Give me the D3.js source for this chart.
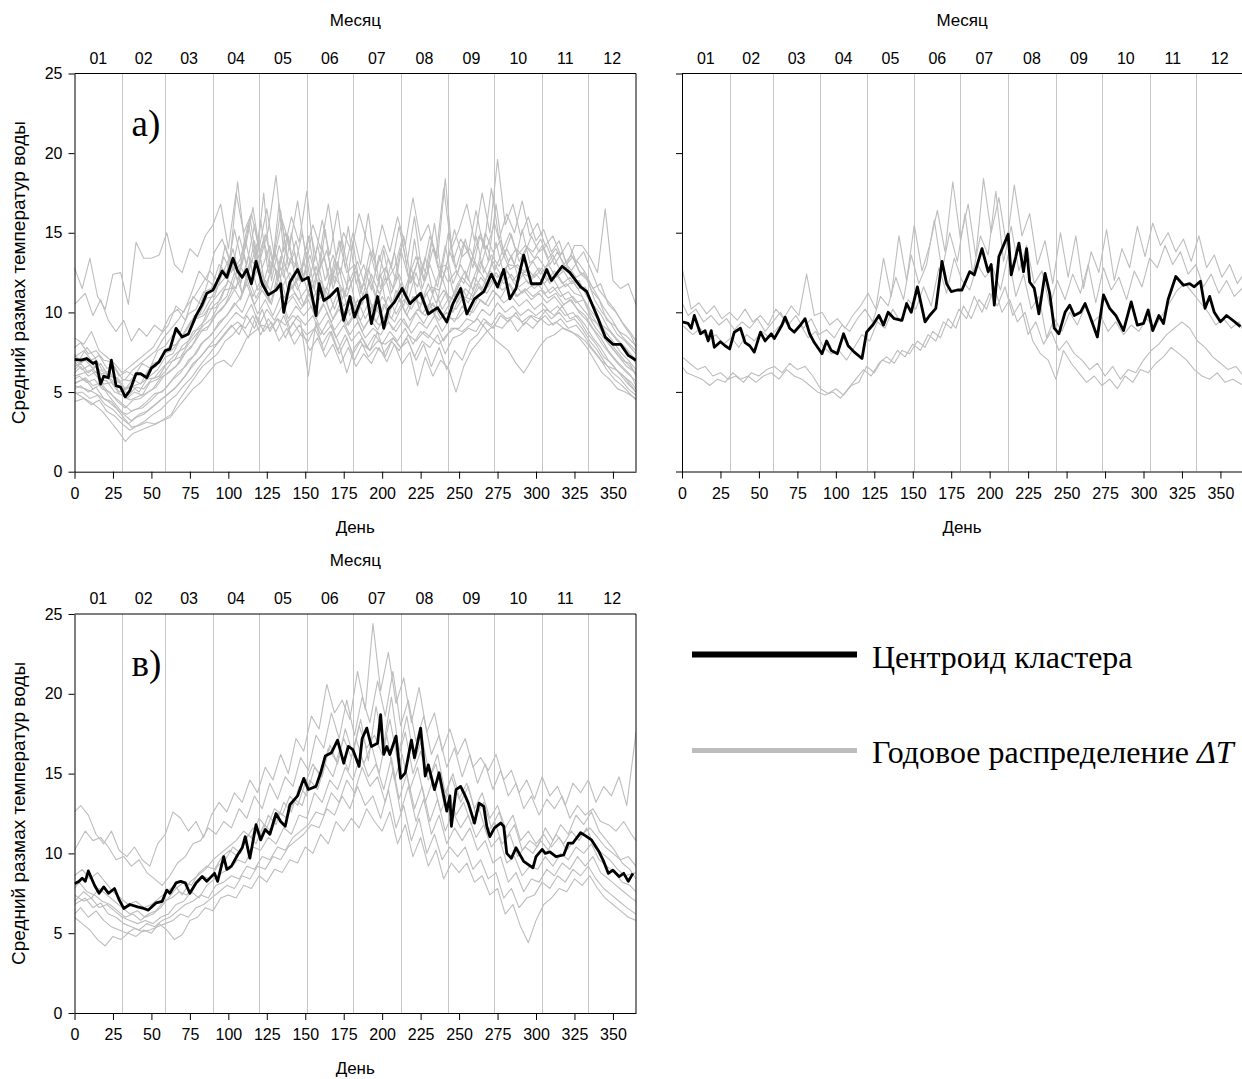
<!DOCTYPE html>
<html><head><meta charset="utf-8">
<script src="https://cdn.jsdelivr.net/npm/d3@7"></script>
<style>body{margin:0;background:#fff}svg{display:block}</style>
</head><body>
<svg id="c" width="1242" height="1079"></svg>
<script>
// ---------- DATA ----------
const monthLabels = ["01","02","03","04","05","06","07","08","09","10","11","12"];
const monthStarts = [0,31,59,90,120,151,181,212,243,273,304,334,365];
const dayTicks = [0,25,50,75,100,125,150,175,200,225,250,275,300,325,350];
const valueTicks = [0,5,10,15,20,25];

const centroidA = [[0,7.05],[4,7.0],[8,7.1],[12,6.8],[14,6.9],[17,5.5],[19,6.0],[22,5.9],[24,7.0],[27,5.4],[30,5.3],[33,4.7],[36,5.1],[40,6.15],[43,6.15],[47,5.9],[50,6.5],[55,6.9],[59,7.6],[62,7.7],[66,9.0],[70,8.45],[74,8.65],[79,9.8],[83,10.5],[86,11.2],[90,11.4],[93,12.0],[96,12.6],[99,12.2],[103,13.4],[106,12.6],[109,12.2],[112,12.7],[115,11.8],[118,13.2],[122,11.8],[126,11.1],[131,11.4],[134,11.8],[136,10.0],[140,11.9],[145,12.7],[148,12.0],[152,12.2],[157,9.8],[159,11.8],[162,10.75],[166,11.0],[171,11.5],[175,9.5],[179,11.0],[182,9.7],[186,10.75],[190,11.1],[193,9.3],[197,11.0],[201,9.0],[204,10.2],[208,10.65],[213,11.5],[218,10.55],[225,11.2],[230,9.9],[236,10.3],[242,9.4],[246,10.55],[251,11.5],[255,9.9],[260,10.85],[266,11.3],[271,12.4],[275,11.6],[279,12.7],[283,10.85],[287,11.5],[292,13.6],[297,11.8],[303,11.8],[307,12.7],[310,12.0],[317,12.9],[322,12.5],[329,11.6],[333,11.3],[340,9.7],[345,8.45],[350,8.0],[355,8.0],[360,7.3],[365,7.0]];

const centroidB = [[0,9.4],[4,9.3],[6,9.0],[8,9.8],[12,8.65],[15,8.85],[17,8.2],[19,8.85],[21,7.8],[25,8.15],[28,7.9],[31,7.7],[34,8.75],[38,9.0],[41,8.1],[44,7.9],[47,7.5],[51,8.75],[54,8.2],[58,8.65],[60,8.35],[65,9.2],[67,9.7],[70,9.0],[73,8.75],[77,9.2],[80,9.6],[83,8.65],[86,8.1],[91,7.4],[94,8.2],[97,7.6],[101,7.4],[105,8.65],[108,7.9],[112,7.5],[117,7.1],[120,8.75],[124,9.2],[128,9.8],[131,9.2],[134,10.0],[138,9.6],[143,9.5],[146,10.55],[149,10.0],[153,11.6],[158,9.4],[161,9.8],[165,10.25],[169,13.2],[172,11.8],[175,11.3],[179,11.4],[182,11.4],[187,12.55],[190,12.35],[195,14.0],[199,12.55],[201,13.0],[203,10.45],[206,13.5],[212,14.9],[214,12.35],[217,13.5],[219,14.35],[222,12.55],[224,14.0],[226,11.9],[229,11.5],[232,9.9],[236,12.45],[239,11.2],[242,9.0],[245,8.65],[249,10.0],[252,10.45],[255,9.8],[259,10.0],[262,10.55],[265,9.8],[270,8.45],[274,11.1],[278,10.25],[282,9.8],[287,8.85],[292,10.65],[296,9.2],[300,9.3],[303,10.15],[306,8.85],[310,9.8],[313,9.3],[316,10.8],[321,12.25],[326,11.7],[330,11.8],[333,11.6],[337,11.95],[340,10.25],[343,11.0],[346,10.0],[350,9.4],[354,9.8],[358,9.5],[363,9.1]];

const centroidV = [[0,8.1],[3,8.25],[5,8.45],[7,8.25],[9,8.9],[13,8.0],[16,7.5],[19,7.9],[22,7.5],[26,7.8],[29,7.1],[32,6.55],[36,6.8],[41,6.65],[45,6.55],[48,6.45],[53,6.9],[57,7.0],[60,7.7],[62,7.5],[66,8.15],[69,8.25],[72,8.15],[75,7.5],[79,8.15],[83,8.55],[86,8.25],[91,8.75],[93,8.25],[97,9.8],[99,9.0],[102,9.2],[106,9.9],[109,10.35],[111,11.05],[114,9.7],[118,11.8],[121,10.85],[124,11.5],[127,11.2],[131,12.5],[134,12.0],[137,11.7],[140,13.05],[145,13.6],[149,14.7],[152,14.0],[157,14.2],[160,15.05],[163,16.1],[167,16.3],[171,17.1],[175,15.65],[178,16.7],[181,16.5],[185,15.45],[187,17.2],[190,17.85],[193,16.7],[197,16.9],[199,18.7],[201,16.2],[203,16.7],[205,16.2],[209,17.35],[212,14.7],[215,15.05],[219,17.1],[221,16.0],[225,17.85],[228,14.85],[230,15.55],[234,14.0],[237,15.05],[240,13.6],[242,12.65],[244,13.6],[245,11.7],[248,14.0],[251,14.2],[254,13.6],[256,13.15],[260,11.9],[263,13.15],[266,12.95],[268,11.7],[270,11.05],[273,11.6],[277,11.9],[279,11.7],[281,10.0],[284,9.7],[287,10.35],[292,9.5],[295,9.3],[298,9.1],[300,9.8],[304,10.25],[306,10.0],[309,10.1],[313,9.8],[318,9.9],[321,10.65],[324,10.65],[329,11.3],[333,11.05],[336,10.85],[341,10.1],[344,9.5],[347,8.75],[350,8.95],[354,8.55],[357,8.75],[360,8.25],[363,8.75]];

// gray lines: first value at day 0, then one value about every 5 days (shifted per line), last at day 365
const grayShiftA = [0,2,-1,1,-2,2,0,-1,1,-2,2,-1,0,1,-2,2,1,-2,2,-1];
const grayShiftB = [1,-1,2,0,-2];
const grayShiftV = [-1,2,0,-2,1,2,-1,0,1];

const grayA = [
[12.8,11.5,13.4,11.0,10.2,12.4,12.5,10.5,14.4,13.4, 13.4,13.6,15.0,13.0,12.5,14.0,13.5,14.8,15.5,16.8, 14.0,17.5,15.0,16.2,14.0,16.5,13.5,15.8,14.2,17.0, 13.8,15.5,14.0,16.8,13.5,15.0,13.8,16.2,14.5,13.2, 15.5,13.8,16.0,14.2,17.2,14.5,15.5,13.5,17.8,14.0, 15.2,16.8,14.5,17.5,15.0,19.6,15.5,16.8,14.8,16.0, 14.5,15.2,13.8,14.5,13.0,14.2,14.2,13.5,12.5,16.5, 12.0,11.5,11.8,10.5],
[10.5,11.2,9.8,10.8,9.5,8.8,9.5,8.2,9.0,8.5, 9.2,8.8,9.8,10.2,9.5,11.0,10.5,12.0,11.5,13.5, 12.5,14.8,13.0,15.5,12.8,14.2,12.0,15.0,13.2,12.5, 14.8,12.2,13.5,11.8,14.5,12.5,13.0,11.5,13.8,12.0, 12.8,11.5,14.0,12.2,13.5,12.0,14.5,12.8,13.0,15.2, 13.5,14.0,12.8,15.0,13.8,14.5,13.2,14.0,13.5,14.8, 13.8,14.2,13.0,13.8,12.5,13.2,12.5,11.5,11.8,10.5, 10.0,9.2,8.5,7.8],
[7.8,8.1,7.4,7.6,7.0,6.9,6.0,6.3,6.0,6.8, 6.5,7.6,7.9,8.6,8.8,9.9,10.2,11.3,11.5,13.0, 12.4,15.2,13.0,16.0,12.8,14.9,13.1,16.4,12.9,14.5, 12.2,14.8,12.6,13.9,11.8,14.6,12.0,13.2,11.6,14.0, 11.5,13.4,12.0,14.8,11.9,13.5,12.3,15.6,12.0,13.8, 12.4,14.6,12.8,15.0,13.2,16.8,13.5,14.9,13.2,14.1, 13.4,14.2,13.0,13.8,12.9,13.5,12.4,12.0,11.2,10.3, 9.6,8.8,8.5,7.9],
[7.2,7.6,7.0,7.3,6.5,6.6,5.8,5.7,6.2,6.0, 6.8,7.0,7.8,8.0,8.7,9.5,9.8,10.9,11.0,12.4, 13.5,12.0,14.6,12.3,15.8,12.5,13.6,12.2,15.0,12.0, 13.8,11.5,14.2,11.6,13.2,11.0,14.5,11.2,12.8,11.0, 13.9,11.2,12.4,11.0,14.6,11.5,13.0,11.6,14.2,11.8, 13.0,12.0,14.8,12.5,13.6,12.9,14.0,13.0,15.2,13.1, 13.5,12.8,13.6,12.6,12.9,12.2,12.5,11.4,10.8,9.5, 9.2,8.5,8.0,7.6],
[7.0,6.8,7.2,6.6,6.3,6.0,5.9,5.2,5.8,5.5, 6.4,6.6,7.4,7.6,8.2,8.9,9.8,9.9,10.8,11.6, 12.2,14.0,11.8,13.5,12.9,17.5,12.0,14.2,12.6,13.8, 11.9,13.6,11.8,15.2,11.5,12.8,11.4,12.6,10.8,12.4, 11.2,12.0,13.8,10.9,12.4,11.6,13.5,11.2,12.8,11.9, 12.6,11.8,13.4,12.5,14.2,12.6,13.8,12.7,13.0,12.5, 13.2,12.4,13.0,12.2,12.6,11.8,12.0,11.0,10.3,9.2, 8.8,8.2,7.8,7.0],
[6.6,7.0,6.5,6.8,6.0,5.9,5.2,5.4,5.0,5.8, 5.9,6.5,7.0,7.5,7.8,8.8,9.0,10.2,10.3,11.4, 11.5,13.0,12.2,14.5,11.6,13.2,12.5,13.0,11.5,12.8, 11.2,12.9,11.0,12.5,11.8,11.0,12.4,10.5,12.0,10.6, 12.2,10.5,11.8,10.8,12.5,10.9,11.6,11.4,12.9,11.0, 12.2,11.6,12.8,12.0,13.2,12.4,13.0,12.9,12.4,12.2, 12.8,12.0,12.6,11.8,12.2,11.5,11.6,10.5,9.9,9.0, 8.4,7.9,7.2,6.8],
[6.9,6.4,6.7,6.1,6.2,5.5,5.4,4.8,5.3,5.2, 5.8,6.0,6.8,7.0,7.9,8.3,9.0,9.5,10.4,10.8, 12.0,11.5,13.6,11.8,12.9,11.5,14.0,11.6,12.5,11.4, 12.6,10.8,12.0,11.0,11.5,10.4,11.0,10.2,11.4,9.8, 11.0,10.2,11.2,10.0,11.0,10.5,11.8,10.6,11.4,10.8, 11.8,11.0,12.2,11.5,12.6,12.2,12.8,12.0,12.6,11.8, 12.4,11.8,12.3,11.5,11.8,11.2,11.0,10.2,9.6,8.8, 8.2,7.5,7.0,6.4],
[6.2,6.6,6.0,6.3,5.5,5.6,4.9,4.6,5.0,4.8, 5.6,5.8,6.3,7.0,7.2,8.0,8.6,9.2,9.6,10.5, 11.0,12.5,11.2,13.2,11.4,12.0,11.0,13.5,11.2,12.0, 10.5,11.8,10.8,11.6,10.2,11.5,9.8,10.8,9.6,10.5, 9.8,11.0,9.9,10.8,10.2,11.2,10.0,11.5,10.2,11.0, 10.6,11.5,11.0,12.2,11.6,12.5,11.8,12.4,11.6,12.0, 11.5,12.0,11.2,11.6,10.8,11.0,10.4,9.8,9.0,8.4, 7.8,7.2,6.6,6.2],
[6.0,6.2,6.4,5.8,5.7,5.0,4.8,4.5,4.7,4.9, 5.2,5.9,6.2,6.6,7.4,7.8,8.8,8.9,9.8,10.2, 10.9,11.8,12.4,11.0,12.0,10.8,12.6,10.9,11.6,10.8, 11.5,10.2,11.6,10.0,11.2,9.8,10.4,9.5,10.6,9.4, 10.5,9.6,10.8,9.8,11.0,9.9,10.6,10.2,11.2,10.0, 11.2,10.6,11.8,11.2,12.0,11.5,12.6,11.8,11.2,11.6, 11.8,11.2,11.6,11.0,11.3,10.6,10.8,9.6,9.2,8.2, 7.6,7.0,6.8,6.0],
[5.8,6.0,5.6,5.8,5.2,5.0,4.4,4.0,4.5,4.6, 5.0,5.3,6.0,6.4,6.8,7.6,8.1,8.9,9.2,10.0, 10.5,11.6,10.8,12.2,10.9,11.8,10.5,12.4,10.8,11.2, 10.4,11.2,9.9,10.8,9.6,10.6,9.2,10.0,9.0,9.8, 9.2,10.0,9.4,10.4,9.5,10.2,9.8,10.6,9.6,10.4, 10.2,11.0,10.8,11.6,11.2,12.0,11.4,11.8,11.0,11.5, 11.0,11.4,10.9,11.2,10.5,10.8,10.0,9.5,8.8,8.0, 7.4,6.8,6.3,5.7],
[5.5,5.9,5.4,5.6,5.0,4.6,4.2,3.8,4.0,4.4, 4.9,5.0,5.6,6.2,6.6,7.2,8.0,8.4,9.0,9.6, 10.2,10.8,11.8,10.5,11.4,10.6,11.8,10.4,11.0,10.2, 10.8,9.6,10.5,9.4,10.2,9.2,10.0,8.8,9.6,8.9, 9.8,8.9,9.6,9.0,10.0,9.3,10.2,9.5,10.0,9.4, 10.4,9.8,10.9,10.5,11.4,10.9,11.8,11.0,11.4,10.8, 11.2,10.6,11.0,10.4,10.8,10.2,9.8,9.0,8.4,7.6, 7.0,6.5,6.0,5.4],
[5.2,5.4,5.0,5.3,4.6,4.4,3.8,3.6,3.9,4.0, 4.4,4.9,5.2,5.8,6.2,7.0,7.4,8.2,8.6,9.4, 9.8,10.6,10.0,11.2,9.9,10.8,9.8,11.0,9.6,10.4, 9.8,10.4,9.2,10.0,8.9,9.6,8.6,9.4,8.4,9.0, 8.6,9.4,8.8,9.6,8.7,9.4,9.0,9.8,8.8,9.6, 9.6,10.2,10.0,10.8,10.4,11.2,10.6,11.0,10.4,10.8, 10.2,10.6,10.0,10.4,9.8,10.0,9.4,8.6,8.0,7.2, 6.8,6.2,5.6,5.0],
[4.9,5.0,4.6,4.8,4.2,3.9,3.4,3.0,3.4,3.6, 4.0,4.4,4.8,5.2,5.8,6.4,7.0,7.6,8.2,8.8, 9.4,10.0,9.6,10.5,9.2,10.2,9.5,10.4,9.0,9.8, 9.2,9.8,8.6,9.5,8.4,9.2,8.2,8.8,7.8,8.6, 8.0,8.8,8.2,9.0,8.0,8.8,8.4,9.2,8.2,9.0, 9.0,9.6,9.4,10.2,9.8,10.6,10.0,10.4,9.8,10.2, 9.8,10.2,9.6,10.0,9.4,9.6,9.0,8.2,7.6,6.8, 6.2,5.8,5.2,4.8],
[4.4,4.6,4.2,4.5,3.8,3.5,3.0,2.6,2.9,3.2, 3.6,3.9,4.4,4.8,5.4,5.9,6.6,7.2,7.8,8.4, 9.0,9.4,9.0,9.8,8.6,9.6,8.8,9.8,8.5,9.2, 8.6,9.0,8.0,8.8,7.6,8.6,7.4,8.2,7.2,7.8, 7.4,8.2,7.6,8.4,7.2,8.2,7.8,8.6,7.4,8.4, 8.6,9.0,8.8,9.6,9.2,10.0,9.6,9.8,9.4,9.8, 9.4,9.8,9.2,9.6,9.0,9.2,8.6,7.8,7.2,6.4, 5.8,5.4,4.9,4.5],
[5.0,4.8,4.5,4.2,3.8,3.2,2.6,1.9,2.4,2.6, 2.8,3.0,3.3,3.6,4.5,5.2,5.9,6.6,7.0,7.4, 8.2,8.6,9.2,8.4,9.8,8.8,9.4,8.2,9.0,8.0, 8.8,7.6,8.4,7.2,8.0,6.8,7.8,6.6,7.4,6.8, 7.8,6.9,8.0,6.8,7.5,5.4,7.2,6.0,7.0,6.5, 5.0,6.6,7.6,8.2,8.8,9.2,9.0,9.6,8.8,9.4, 9.0,9.6,9.2,9.4,9.0,8.8,8.4,7.8,7.0,6.2, 5.8,5.2,5.0,4.6],
[5.4,5.2,5.0,4.7,4.4,4.0,3.4,2.8,2.9,3.1, 3.0,3.2,3.4,4.0,4.6,5.2,5.6,6.2,6.8,7.0, 6.6,7.4,8.4,8.8,9.2,9.0,9.6,9.2,9.8,9.4, 6.0,9.4,8.6,9.2,8.0,6.2,7.8,8.4,7.6,8.2, 8.0,8.4,7.8,8.6,8.2,8.8,8.4,8.0,8.6,9.0, 8.8,9.2,9.6,9.0,8.4,8.0,7.6,6.8,6.2,7.0, 7.8,8.4,8.6,9.0,8.8,8.6,8.2,7.6,7.0,6.6, 6.4,6.0,5.6,5.2],
[8.4,8.0,8.8,7.6,7.2,6.8,6.2,6.6,7.0,7.4, 7.8,8.6,9.2,10.4,10.0,11.2,12.6,12.0,13.8,14.6, 13.2,18.2,14.0,16.6,13.4,15.2,18.6,13.8,16.0,14.4, 17.6,13.2,15.8,13.6,16.4,12.8,15.0,13.0,16.2,12.6, 14.2,12.8,15.4,13.0,16.0,12.4,14.8,13.4,18.4,13.2, 14.6,13.8,16.4,14.0,17.8,14.6,16.2,15.0,17.0,14.8, 15.6,14.2,14.8,13.6,14.4,13.2,13.8,12.6,11.4,10.8, 10.2,9.4,8.8,8.2],
[7.4,7.0,7.8,7.2,6.4,6.2,5.6,5.8,6.4,6.8, 7.2,7.6,8.4,9.0,9.6,10.4,11.0,11.8,12.6,12.0, 14.2,12.6,13.4,15.6,13.0,14.6,12.4,16.8,13.6,12.8, 15.0,12.2,14.2,12.0,13.6,12.4,15.4,11.8,13.0,11.4, 13.6,12.0,12.8,14.6,11.8,13.2,12.0,14.0,12.2,15.0, 12.8,14.4,13.2,14.8,14.0,15.6,13.8,15.0,13.6,14.2, 13.8,14.6,13.4,14.0,13.0,13.6,12.6,12.2,10.8,10.0, 9.4,8.6,8.2,7.4],
[5.6,5.8,5.2,5.5,4.8,4.2,3.6,3.2,3.6,3.8, 4.2,4.6,5.0,5.4,6.0,6.8,7.2,7.8,8.0,8.6, 9.2,8.6,9.8,9.0,10.2,8.8,9.6,8.4,9.4,8.6, 8.2,9.2,7.6,8.8,7.4,8.4,7.0,8.0,7.6,8.8, 7.2,8.4,7.8,8.2,7.0,8.0,6.6,7.8,6.4,7.6, 7.0,8.2,8.6,9.4,9.0,9.8,9.4,10.0,9.2,9.8, 9.6,10.2,9.8,10.4,9.6,9.8,9.2,8.4,7.8,7.0, 6.4,6.0,5.4,5.0],
[6.4,6.8,6.2,6.6,5.9,5.8,5.0,5.2,5.4,5.6, 6.0,6.4,7.2,7.4,8.4,8.6,9.6,9.8,10.6,11.2, 11.8,13.6,11.2,12.8,14.4,11.6,13.0,12.2,14.8,11.8, 13.2,11.4,12.8,10.6,13.4,10.8,12.2,9.8,11.6,10.2, 12.4,9.6,11.4,10.4,12.8,10.2,11.2,9.8,12.2,10.6, 11.8,12.6,11.4,13.2,12.2,14.4,12.4,13.6,12.0,12.8, 12.2,12.8,11.8,12.4,11.6,12.0,11.2,10.2,9.4,8.6, 8.0,7.4,6.8,6.2]
];

const grayB = [
[12.8,10.2,10.6,9.9,10.4,9.6,10.0,9.5,10.2,9.4, 9.8,9.2,10.2,9.6,10.4,9.8,12.4,9.8,10.0,9.2, 9.6,9.0,9.8,10.4,11.2,10.2,13.4,11.0,14.8,12.0, 15.5,12.6,14.2,16.4,13.8,18.2,14.6,16.8,13.5,18.4, 15.0,17.2,14.2,18.0,14.8,16.2,13.0,14.5,11.8,15.0, 12.2,14.8,11.5,13.8,12.5,15.2,12.0,14.0,12.8,15.4, 13.5,15.6,14.2,15.0,13.8,14.6,13.2,14.8,12.8,13.6, 12.2,13.0,11.8,12.4],
[10.6,9.8,10.2,9.4,9.8,9.2,9.6,8.9,9.4,9.0, 9.6,8.8,9.4,10.0,9.2,9.8,9.0,9.6,8.6,8.9, 8.4,9.2,8.8,9.6,10.2,9.4,11.0,10.4,12.2,10.8, 13.6,11.8,13.0,15.8,12.6,15.0,13.2,16.2,12.4,14.8, 13.6,17.6,13.2,15.4,12.6,14.2,11.8,12.6,10.4,12.0, 10.8,12.4,11.2,13.0,10.6,12.8,11.4,12.2,10.8,12.6, 11.6,13.4,12.8,14.2,13.0,13.8,12.4,13.0,11.6,12.4, 11.2,12.0,11.0,11.6],
[9.2,8.6,9.0,8.2,8.6,8.0,8.4,7.8,8.6,8.2, 8.8,8.4,9.0,9.4,8.8,9.2,8.4,8.8,7.8,7.4, 7.6,7.0,7.8,8.6,8.2,9.4,9.0,10.2,9.4,10.8, 10.2,11.6,10.4,12.8,11.2,13.4,12.0,11.4,13.0,12.2, 12.8,11.4,13.6,11.0,12.4,10.2,11.0,8.4,9.6,8.8, 10.0,9.2,10.4,9.4,9.8,8.8,9.4,8.6,9.2,8.8, 9.6,9.0,9.8,10.6,11.4,11.8,11.2,10.6,10.0,9.2, 9.6,9.0,9.4,8.8],
[7.2,6.8,6.4,6.6,6.0,6.2,5.8,6.0,5.6,6.2, 6.0,6.4,6.6,6.2,6.8,6.4,6.6,6.0,5.2,4.9, 5.2,4.8,5.4,5.6,6.6,6.2,7.0,6.8,7.6,7.2, 8.0,7.6,8.6,8.2,9.4,9.0,10.2,9.6,11.0,10.0, 11.2,10.4,11.6,9.8,10.6,8.6,9.4,8.0,8.8,7.6, 8.2,7.4,7.0,6.4,6.8,6.0,6.6,5.8,6.4,6.2, 7.0,7.6,8.0,8.6,9.0,9.4,9.0,8.2,7.8,7.2, 6.8,6.4,6.6,6.0],
[6.6,6.2,6.0,5.8,5.4,5.8,5.6,6.2,5.8,6.0, 5.6,6.0,6.2,5.8,6.4,6.0,5.8,5.4,5.0,4.8, 5.0,4.6,5.2,5.8,6.4,6.0,6.8,7.2,6.8,7.6, 7.4,8.2,7.8,8.8,8.4,9.6,9.0,10.4,9.6,10.8, 10.2,11.6,10.0,10.8,9.4,10.0,8.2,7.4,7.0,5.8, 7.6,6.8,6.2,5.6,6.0,5.4,5.8,5.2,6.0,5.6, 6.4,6.2,6.8,7.2,7.8,7.4,7.0,6.4,6.0,5.8, 6.2,5.6,5.8,5.4]
];

const grayV = [
[12.6,13.0,12.4,11.2,10.6,11.4,10.2,9.8,10.4,9.6, 9.2,10.6,11.2,12.6,12.2,11.4,12.0,11.0,12.4,13.2, 12.6,13.8,13.2,14.6,13.8,15.4,14.6,16.2,15.0,17.2, 16.4,18.6,17.8,20.6,18.8,19.6,18.4,21.4,19.0,24.4, 20.2,22.6,19.4,21.0,18.2,20.4,17.6,18.8,16.4,17.8, 16.2,17.2,15.4,16.0,15.2,16.2,14.6,15.2,13.8,14.6, 13.4,14.8,13.6,14.2,13.0,14.4,13.8,14.6,13.2,14.2, 13.6,14.8,13.0,17.6],
[10.2,11.4,10.8,11.0,10.4,9.6,9.8,9.2,9.6,8.8, 8.4,8.0,8.6,9.4,9.8,10.6,10.8,11.6,11.2,12.0, 11.6,12.8,12.2,13.6,12.8,14.4,13.4,14.8,14.2,16.0, 15.2,17.4,16.6,18.8,17.2,19.6,17.4,19.8,18.2,20.8, 18.6,21.4,18.0,19.6,17.0,18.6,16.2,17.4,15.4,16.6, 14.8,16.2,14.4,15.6,14.0,15.2,13.6,14.4,12.8,13.6, 12.4,13.4,12.8,13.6,12.2,13.0,12.4,12.8,12.0,11.8, 11.4,12.0,11.2,10.8],
[8.6,9.0,8.4,8.8,8.2,7.6,7.2,6.8,7.0,6.6, 6.8,7.2,7.6,8.0,7.4,8.2,8.6,9.0,9.6,10.0, 10.4,10.8,11.4,11.0,12.2,11.6,12.8,12.4,13.6,13.0, 14.4,15.6,14.8,16.6,15.8,17.2,16.0,18.0,16.6,17.4, 16.2,18.4,15.8,17.6,15.0,16.4,14.6,15.6,13.2,14.8, 13.4,14.4,12.8,13.8,12.2,13.0,11.6,12.4,10.8,11.4, 10.6,11.2,10.4,11.0,10.2,10.8,11.2,11.6,11.0,10.4, 10.0,9.6,9.8,9.2],
[7.8,8.2,7.6,7.4,7.0,6.8,6.4,6.0,6.2,5.8, 6.2,6.4,7.0,7.2,7.6,7.4,8.0,8.6,8.4,9.2, 9.6,10.4,10.0,11.2,10.6,11.8,11.4,12.6,12.2,13.4, 13.0,14.6,14.0,15.6,14.8,16.4,15.2,17.2,15.6,16.8, 15.0,17.4,14.6,16.2,14.0,15.4,13.2,14.6,12.6,13.8, 12.4,13.2,11.8,12.8,11.2,12.0,10.6,11.2,9.8,10.4, 10.0,10.8,10.2,11.2,10.6,11.4,10.8,11.6,10.4,10.0, 9.6,9.0,8.6,8.8],
[7.4,7.0,7.2,6.6,6.8,6.4,6.0,5.8,5.6,5.8, 5.6,6.0,6.2,6.8,7.0,7.6,7.2,8.0,8.4,8.8, 9.0,9.6,9.4,10.4,10.2,11.0,10.6,11.6,11.2,12.4, 12.2,13.8,13.2,14.6,14.0,15.4,14.6,16.2,14.8,15.6, 14.0,16.0,13.4,15.0,12.8,14.2,12.0,13.4,11.4,12.6, 11.6,12.4,11.0,11.8,10.4,11.0,9.4,9.8,8.6,9.2, 9.0,9.8,9.2,10.0,9.6,10.4,10.0,10.6,9.6,9.2, 8.8,8.2,8.0,7.6],
[6.8,7.2,6.6,6.9,6.2,6.0,5.6,5.4,5.2,5.6, 5.4,5.8,6.0,6.4,6.8,7.0,7.4,7.2,8.0,8.2, 8.6,8.4,9.2,9.0,9.8,9.6,10.4,10.2,11.0,11.4, 11.8,12.6,12.4,13.8,13.2,14.6,13.8,15.4,14.2,14.8, 13.2,15.2,12.6,14.2,12.0,13.4,11.2,12.4,10.6,11.6, 10.8,11.6,10.2,10.8,9.4,9.8,8.2,8.8,7.6,8.4, 8.2,9.0,8.6,9.4,9.0,9.8,9.2,9.8,8.8,8.4, 8.0,7.6,7.2,7.0],
[6.2,6.6,6.0,6.4,5.8,5.4,5.2,5.0,5.3,5.1, 5.2,5.4,5.6,5.8,6.2,6.0,6.6,6.8,7.2,7.6, 8.0,7.8,8.6,8.4,9.2,9.0,9.8,9.6,10.4,10.8, 11.2,11.8,11.6,12.8,12.4,13.6,12.8,14.2,13.0,13.6, 12.2,14.0,11.6,13.0,10.8,12.2,10.0,11.2,9.6,10.4, 9.8,10.4,9.0,9.6,8.4,8.8,7.2,7.8,6.6,7.2, 7.4,8.2,7.8,8.6,8.2,9.0,8.6,9.2,8.4,7.8, 7.4,7.0,6.6,6.2],
[6.0,5.6,5.2,4.6,4.2,4.8,4.6,5.0,4.8,5.2, 5.0,5.6,5.2,4.6,4.9,5.8,6.0,6.6,6.4,7.2, 7.4,7.2,8.0,7.8,8.6,8.2,9.0,8.8,9.6,9.4, 10.4,10.0,11.2,10.6,12.0,11.4,12.2,11.6,12.8,12.0, 11.4,12.6,10.6,11.8,9.8,11.0,9.2,10.2,8.4,9.4, 8.8,9.4,8.2,8.6,7.4,7.8,6.2,6.8,5.4,4.4, 5.8,6.8,7.2,7.8,7.6,8.4,8.0,8.6,7.8,7.2, 6.8,6.4,6.0,5.8],
[7.0,7.6,7.2,7.8,7.4,7.0,6.6,6.2,6.4,6.0, 6.2,6.6,7.2,7.8,8.2,8.0,8.8,9.2,9.0,9.8, 10.2,9.8,10.8,11.6,11.0,12.4,11.8,13.2,12.6,14.2, 13.6,15.4,14.8,16.8,15.6,17.8,16.2,18.4,15.8,19.2, 16.8,19.8,16.4,18.6,15.8,17.2,14.8,16.2,13.8,15.0, 13.2,14.2,12.4,13.2,11.6,12.6,11.0,11.8,10.2,10.8, 10.4,11.6,10.8,11.8,11.2,12.4,11.8,12.6,11.4,10.8, 10.2,9.4,9.0,8.4]
];

// ---------- DRAWING ----------
const sans = '"Liberation Sans", Arial, sans-serif';
const serif = '"Liberation Serif", "Times New Roman", serif';
const svg = d3.select("#c");
const GRAY = "#bdbdbd";

function sampleDays(n, shift){
  return d3.range(n).map(i => i === 0 ? 0 : (i === n - 1 ? 365 : i * 5 + shift));
}

function drawPanel(cfg){
  const x = d3.scaleLinear().domain([0,365]).range([cfg.x0, cfg.x1]);
  const y = d3.scaleLinear().domain([0,25]).range([cfg.yb, cfg.yt]);
  const g = svg.append("g");
  const cid = "clip" + cfg.id;
  g.append("clipPath").attr("id", cid).append("rect")
    .attr("x", cfg.x0).attr("y", cfg.yt).attr("width", cfg.x1 - cfg.x0).attr("height", cfg.yb - cfg.yt);
  const plot = g.append("g").attr("clip-path", `url(#${cid})`);
  plot.selectAll("line.grid").data(monthStarts.slice(1,12)).join("line")
    .attr("x1", d => Math.round(x(d)) + 0.5).attr("x2", d => Math.round(x(d)) + 0.5)
    .attr("y1", cfg.yt).attr("y2", cfg.yb)
    .attr("stroke", "#c6c6c6").attr("stroke-width", 1);
  const line = d3.line().defined(d => d[1] != null && !isNaN(d[1])).x(d => x(d[0])).y(d => y(d[1]));
  cfg.gray.forEach((arr, k) => {
    const days = sampleDays(arr.length, cfg.shift[k] || 0);
    plot.append("path").datum(arr.map((v,i) => [days[i], v]))
      .attr("d", line).attr("fill", "none").attr("stroke", GRAY).attr("stroke-width", 1.1)
      .attr("stroke-linejoin", "round");
  });
  plot.append("path").datum(cfg.centroid).attr("d", line)
    .attr("fill", "none").attr("stroke", "#000").attr("stroke-width", 2.8)
    .attr("stroke-linejoin", "round");

  const yAx = d3.axisLeft(y).tickValues(valueTicks).tickSize(6).tickSizeOuter(0).tickPadding(6);
  if (!cfg.yLabels) yAx.tickFormat("");
  const gy = g.append("g").attr("transform", `translate(${cfg.x0},0)`).call(yAx);
  const xAx = d3.axisBottom(x).tickValues(dayTicks).tickSize(7).tickSizeOuter(0).tickPadding(9);
  const gx = g.append("g").attr("transform", `translate(0,${cfg.yb})`).call(xAx);
  [gx, gy].forEach(a => {
    a.attr("font-family", sans).attr("font-size", 16);
    a.selectAll("path,line").attr("stroke", "#000");
    a.selectAll("text").attr("fill", "#000");
  });
  g.append("line").attr("x1", cfg.x0).attr("x2", cfg.x1).attr("y1", cfg.yt).attr("y2", cfg.yt).attr("stroke", "#000");
  g.append("line").attr("x1", cfg.x1).attr("x2", cfg.x1).attr("y1", cfg.yt).attr("y2", cfg.yb).attr("stroke", "#000");

  g.selectAll("text.month").data(monthLabels).join("text")
    .attr("x", (d,i) => x((monthStarts[i] + monthStarts[i+1]) / 2))
    .attr("y", cfg.yt - 10).attr("text-anchor", "middle")
    .attr("font-family", sans).attr("font-size", 16).text(d => d);
  const cx = (cfg.x0 + Math.min(cfg.x1, 1242)) / 2;
  g.append("text").attr("x", cx).attr("y", cfg.yt - 48).attr("text-anchor", "middle")
    .attr("font-family", sans).attr("font-size", 17).text("Месяц");
  g.append("text").attr("x", cx).attr("y", cfg.yb + 61).attr("text-anchor", "middle")
    .attr("font-family", sans).attr("font-size", 17).text("День");
  if (cfg.yLabels) {
    g.append("text").attr("transform", `translate(25,${(cfg.yt + cfg.yb) / 2}) rotate(-90)`)
      .attr("text-anchor", "middle").attr("font-family", sans).attr("font-size", 19)
      .text("Средний размах температур воды");
  }
  if (cfg.label) {
    g.append("text").attr("x", cfg.x0 + 57).attr("y", cfg.yt + 62)
      .attr("font-family", serif).attr("font-size", 37).text(cfg.label);
  }
}

drawPanel({id:"a", x0:74.5, x1:636, yt:73.5, yb:471.7, gray:grayA, shift:grayShiftA, centroid:centroidA, yLabels:true, label:"а)"});
drawPanel({id:"b", x0:682, x1:1243.5, yt:73.5, yb:471.5, gray:grayB, shift:grayShiftB, centroid:centroidB, yLabels:false, label:null});
drawPanel({id:"v", x0:74.5, x1:636, yt:614, yb:1013, gray:grayV, shift:grayShiftV, centroid:centroidV, yLabels:true, label:"в)"});

// legend
const leg = svg.append("g");
leg.append("line").attr("x1", 692).attr("x2", 857).attr("y1", 654.5).attr("y2", 654.5)
  .attr("stroke", "#000").attr("stroke-width", 6);
leg.append("text").attr("x", 872).attr("y", 668).attr("font-family", serif).attr("font-size", 32)
  .text("Центроид кластера");
leg.append("line").attr("x1", 692).attr("x2", 857).attr("y1", 750.5).attr("y2", 750.5)
  .attr("stroke", GRAY).attr("stroke-width", 5);
const t2 = leg.append("text").attr("x", 872).attr("y", 763).attr("font-family", serif).attr("font-size", 32);
t2.append("tspan").text("Годовое распределение ");
t2.append("tspan").attr("font-style", "italic").text("ΔT");
</script>
</body></html>
